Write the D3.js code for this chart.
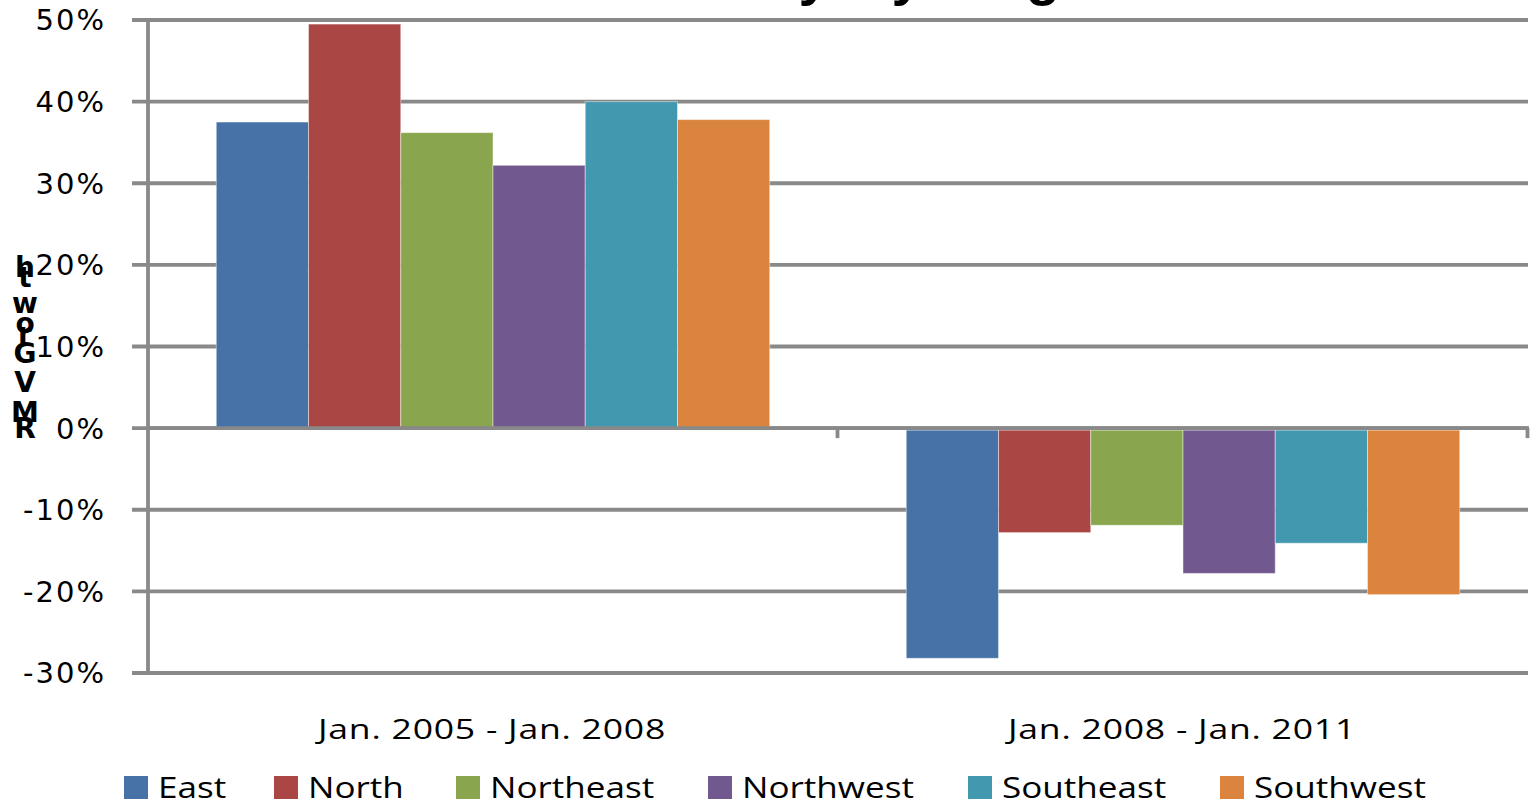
<!DOCTYPE html>
<html><head><meta charset="utf-8">
<script src="https://cdn.jsdelivr.net/npm/d3@7/dist/d3.min.js"></script>
<style>body{margin:0;background:#fff}svg{display:block}</style>
</head><body>
<svg id="c" width="1532" height="803"></svg>
<script>
const categories = ["Jan. 2005 - Jan. 2008", "Jan. 2008 - Jan. 2011"];
const series = ["East", "North", "Northeast", "Northwest", "Southeast", "Southwest"];
const east      = [37.5, -28.2];
const north     = [49.5, -12.8];
const northeast = [36.2, -11.9];
const northwest = [32.2, -17.8];
const southeast = [40.0, -14.1];
const southwest = [37.8, -20.4];
const yTicks = [50, 40, 30, 20, 10, 0, -10, -20, -30];
const colors = ["#4672A8", "#AA4644", "#89A54E", "#71588F", "#4198AF", "#DB843D"];
const titleText = "RMV Growth: City by Region";
const yLabel = "RMV Growth";

const values = [east, north, northeast, northwest, southeast, southwest];
const rows = [];
categories.forEach((c, ci) => series.forEach((s, si) => rows.push({c, s, v: values[si][ci]})));

const svg = d3.select("#c");
const L = 148, R = 1528, T = 20, B = 673;
const y = d3.scaleLinear().domain([-30, 50]).range([B, T]);
const x0 = d3.scaleBand().domain(categories).range([L, R]).padding(0);
const x1 = d3.scaleBand().domain(series).range([0, x0.bandwidth()]).paddingInner(0).paddingOuter(0.74);
const color = d3.scaleOrdinal().domain(series).range(colors);
const grid = "#898989";
const gw = 3.8;

// title (cut off at the top of the picture)
svg.append("text").attr("x", 1160).attr("y", -6).attr("text-anchor", "end")
  .attr("font-family", "Liberation Sans, Arial, sans-serif").attr("font-weight", "bold")
  .attr("font-size", 56).attr("letter-spacing", 4).attr("fill", "#000").text(titleText);

// gridlines
svg.append("g").selectAll("line").data(yTicks).join("line")
  .attr("x1", L - 16).attr("x2", R).attr("y1", d => y(d)).attr("y2", d => y(d))
  .attr("stroke", grid).attr("stroke-width", gw);

// y tick labels
svg.append("g").selectAll("text").data(yTicks).join("text")
  .attr("x", 106).attr("y", d => y(d)).attr("dy", "0.36em").attr("text-anchor", "end")
  .attr("font-family", "DejaVu Sans, sans-serif").attr("font-size", 29)
  .attr("letter-spacing", 2).attr("fill", "#000").text(d => d + "%");

// bars
svg.append("g").selectAll("rect").data(rows).join("rect")
  .attr("x", d => x0(d.c) + x1(d.s))
  .attr("width", x1.bandwidth())
  .attr("y", d => d.v >= 0 ? y(d.v) : y(0) + 2)
  .attr("height", d => d.v >= 0 ? y(0) - y(d.v) : y(d.v) - y(0) - 2)
  .attr("fill", d => color(d.s))
  .attr("stroke", "rgba(255,255,255,0.45)").attr("stroke-width", 1);

// y axis line
svg.append("line").attr("x1", L).attr("x2", L).attr("y1", T - gw / 2).attr("y2", B + gw / 2)
  .attr("stroke", grid).attr("stroke-width", gw);

// zero axis line with category ticks
svg.append("line").attr("x1", L).attr("x2", R + 1).attr("y1", y(0)).attr("y2", y(0))
  .attr("stroke", grid).attr("stroke-width", gw);
svg.append("g").selectAll("line").data(categories).join("line")
  .attr("x1", d => x0(d) + x0.bandwidth() - 0.5).attr("x2", d => x0(d) + x0.bandwidth() - 0.5)
  .attr("y1", y(0)).attr("y2", y(0) + 10).attr("stroke", grid).attr("stroke-width", gw);

// category labels
svg.append("g").selectAll("text").data(categories).join("text")
  .attr("transform", d => `translate(${x0(d) + x0.bandwidth() / 2 - 1},739) scale(1.27,1)`)
  .attr("text-anchor", "middle")
  .attr("font-family", "Open Sans, sans-serif").attr("font-size", 28)
  .attr("letter-spacing", 0.6).attr("fill", "#000").text(d => d);

// y axis label (stacked letters, R at the bottom)
const letters = yLabel.replace(" ", "").split("");
const baselines = [438, 422, 392, 363, 343, 333, 313, 287, 277];
svg.append("g").selectAll("text").data(letters).join("text")
  .attr("x", 25).attr("y", (d, i) => baselines[i]).attr("text-anchor", "middle")
  .attr("font-family", "DejaVu Sans, sans-serif").attr("font-weight", "bold")
  .attr("font-size", 28).attr("fill", "#000").text(d => d);

// legend
const legX = [124, 274, 456, 708, 968, 1220];
const lg = svg.append("g").selectAll("g").data(series).join("g")
  .attr("transform", (d, i) => `translate(${legX[i]},776)`);
lg.append("rect").attr("width", 24).attr("height", 23).attr("fill", d => color(d));
lg.append("text").attr("transform", "translate(34,22) scale(1.17,1)")
  .attr("font-family", "Open Sans, sans-serif").attr("font-size", 30)
  .attr("fill", "#000").text(d => d);
</script>
</body></html>
